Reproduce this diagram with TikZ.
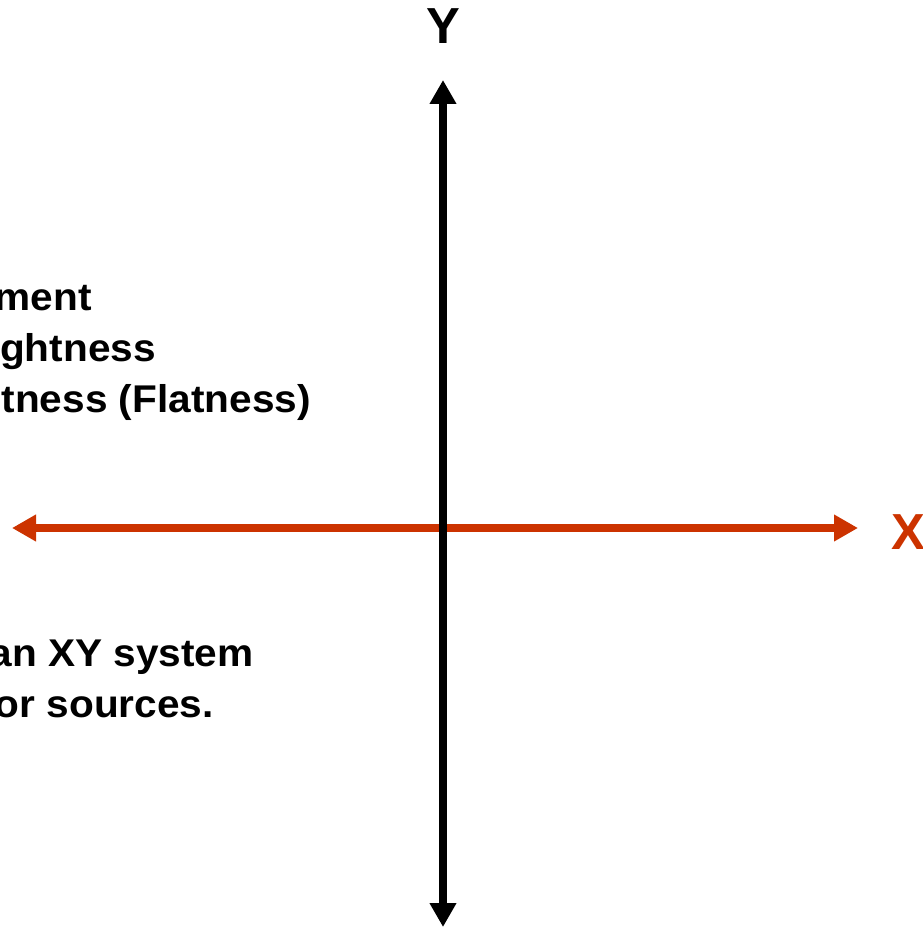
\documentclass[tikz,border=0pt]{standalone}
\usepackage{fontspec}
\setmainfont{Liberation Sans}
\usetikzlibrary{arrows.meta}
\definecolor{axisred}{HTML}{CC3300}
\begin{document}
\begin{tikzpicture}[x=0.75pt,y=-0.75pt,line join=round,>={Triangle[length=18pt,width=19pt]},font=\bfseries]
\tikzset{every node/.style={inner sep=0pt},
  txt/.style={anchor=base east,xscale=1.05,font=\fontsize{29}{34}\selectfont\bfseries},
  axislabel/.style={font=\fontsize{38}{44}\selectfont\bfseries}}
\useasboundingbox (0,0) rectangle (923,927);
\clip (0,0) rectangle (923,927);
% axes
\coordinate (xl) at (12,528);
\coordinate (xr) at (858,528);
\coordinate (yb) at (443,927);
\coordinate (yt) at (443,80);
\draw[<->,axisred,line width=6pt] (xl)--(xr);
\draw[<->,line width=6pt] (yb)--(yt);
\node[axislabel] (ylab) at (443,26) {Y};
\node[axislabel,axisred,anchor=west] (xlab) at (891,532) {X};
% text
\node[txt] (t1) at (92,310) {ment};
\node[txt] (t2) at (156,361) {ghtness};
\node[txt] (t3) at (311,412) {tness (Flatness)};
\node[txt] (t4) at (254,666) {an XY system};
\node[txt] (t5) at (214,717) {or sources.};
\end{tikzpicture}
\end{document}
